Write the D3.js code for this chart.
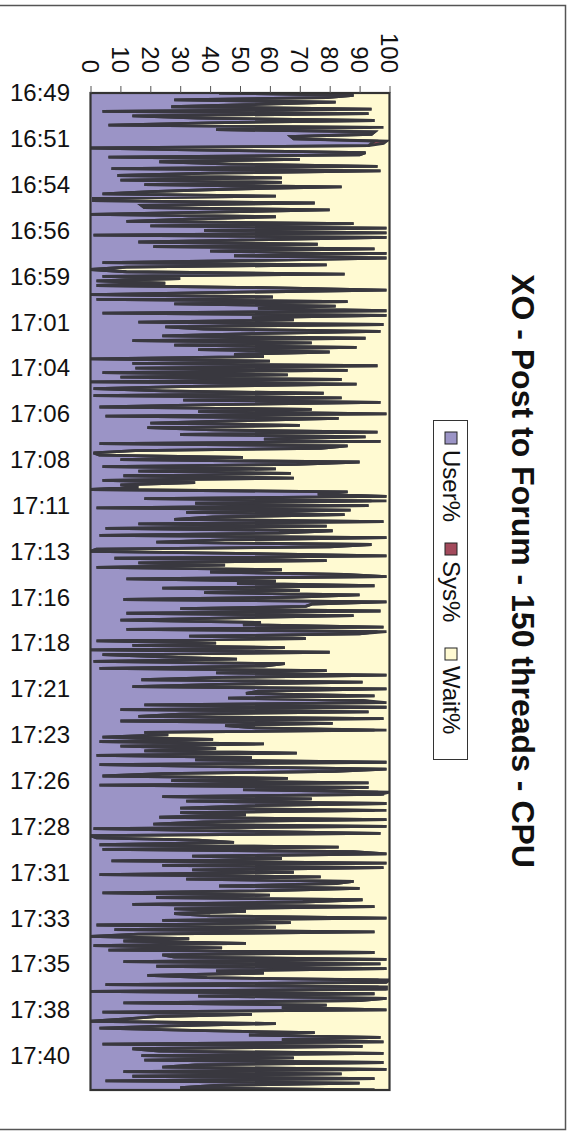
<!DOCTYPE html>
<html>
<head>
<meta charset="utf-8">
<script src="https://cdn.jsdelivr.net/npm/d3@7"></script>
<style>
  body { margin: 0; background: #fff; }
  svg { display: block; }
  text { font-family: "Liberation Sans", Arial, sans-serif; fill: #111; }
</style>
</head>
<body>
<svg id="chart" width="571" height="1135"></svg>
<script>
// Time axis labels, one every 20 samples
const timeLabels = ["16:49","16:51","16:54","16:56","16:59","17:01","17:04","17:06","17:08","17:11","17:13",
  "17:16","17:18","17:21","17:23","17:26","17:28","17:31","17:33","17:35","17:38","17:40"];
const labelEvery = 20;

const valueTicks = [0,10,20,30,40,50,60,70,80,90,100];

const seriesNames = ["User%","Sys%","Wait%"];
const seriesColors = ["#9b94c6","#a34a5c","#fffad2"];

// CPU user time per sample (%)
const userPct = [
43,88,79,28,82,56,27,94,4,93,
14,36,95,40,6,94,42,95,94,67,
68,95,94,93,0,43,92,90,6,70,
23,47,96,7,97,40,9,64,
10,64,18,84,45,20,4,62,1,1,
75,17,18,80,40,0,62,33,12,88,
20,99,38,99,1,99,60,16,76,21,
95,40,99,48,99,57,4,79,12,0,
12,85,4,30,2,25,2,63,99,45,
0,61,2,86,28,82,56,99,4,99,
54,68,16,98,25,38,97,54,24,92,
14,74,28,89,36,80,48,58,0,60,
14,96,15,86,4,66,10,84,0,89,
34,1,24,78,1,84,31,97,42,3,
74,36,99,5,83,50,20,70,19,41,
96,30,92,58,97,3,86,77,15,1,
3,51,10,90,69,4,62,16,67,11,
68,4,35,10,16,0,86,76,99,18,
94,35,93,2,87,32,85,41,28,98,
16,79,5,81,63,3,99,45,22,94,
80,2,0,55,99,8,79,16,45,2,
64,40,85,99,12,62,49,95,24,70,
38,90,67,11,99,74,72,30,97,12,
88,48,10,57,51,98,12,96,90,33,
72,2,42,14,65,0,80,4,24,49,
1,65,58,3,79,42,99,44,17,91,
43,14,99,56,52,95,46,91,96,18,
99,10,93,30,16,98,10,81,45,55,
95,
18,26,4,41,3,58,10,42,18,69,
2,54,35,99,3,48,99,82,24,4,
66,27,93,3,93,51,96,97,24,74,
32,99,53,30,95,30,52,23,99,38,
21,99,1,48,97,0,2,36,48,3,
83,4,88,99,34,64,7,99,24,98,
34,68,3,77,32,88,82,43,90,61,
4,60,22,91,71,14,95,28,52,28,
40,99,24,67,2,62,8,95,16,0,
33,11,52,1,44,6,95,24,28,99,
11,97,22,99,42,58,19,39,96,99,
5,96,99,0,95,36,99,90,11,79,
64,99,4,54,22,12,0,62,27,3,
34,75,53,97,64,98,4,91,14,23,
98,17,68,18,98,35,24,99,11,84,
14,95,5,90,42,30,95
];

// CPU I/O wait per sample (%)
const waitPct = [
57,12,21,72,18,44,73,6,96,7,
86,64,5,60,94,2,58,5,6,33,
32,1,2,7,100,57,8,10,94,30,
77,53,4,93,3,60,91,36,
90,36,82,16,55,80,96,38,99,99,
25,83,82,20,60,100,38,67,88,12,
80,1,62,1,99,1,40,84,24,79,
5,60,1,52,1,43,96,21,88,100,
88,15,96,70,98,75,98,37,1,55,
100,39,98,14,72,18,44,1,96,1,
46,32,84,2,75,62,3,46,76,8,
86,26,72,11,64,20,52,42,100,40,
86,4,85,14,96,34,90,16,100,11,
66,99,76,22,99,16,69,3,58,97,
26,64,1,95,17,50,80,30,81,59,
4,70,8,42,3,97,14,23,85,99,
97,49,90,10,31,96,38,84,33,89,
32,96,65,90,84,100,14,24,1,82,
1,65,7,98,13,68,15,59,72,2,
84,21,95,19,37,97,1,55,78,6,
20,98,100,45,1,92,21,84,55,98,
36,60,15,1,88,38,51,5,76,30,
62,10,33,89,1,26,28,70,3,88,
12,52,90,43,49,2,88,1,10,67,
28,98,58,86,35,100,20,96,76,51,
99,35,42,97,21,58,1,56,83,9,
57,86,1,44,48,5,54,9,1,82,
1,90,7,70,84,2,90,19,55,45,
1,
82,74,96,59,97,42,90,58,82,31,
98,46,65,1,97,52,1,18,76,96,
34,73,7,97,7,45,0,3,76,26,
68,1,47,70,1,70,48,77,1,62,
79,1,99,52,3,100,98,64,52,97,
17,96,12,1,66,36,93,1,76,2,
66,32,97,23,68,12,18,57,10,39,
96,40,78,9,29,86,5,72,48,72,
60,1,76,33,98,38,92,5,84,100,
67,89,48,99,56,94,5,76,72,1,
89,3,78,1,58,42,81,61,0,1,
95,1,1,100,5,64,1,10,89,21,
36,1,96,46,78,88,100,38,73,97,
66,25,47,3,36,2,96,9,86,77,
2,83,32,82,2,65,76,1,89,16,
86,5,95,10,58,70,5
];

// System time: zero except at these samples
const sysAt  = [15,21,22,178,235,266,278,304,305,313,387,390];
const sysPct = [4,4,4,5,3,3,4,4,4,4,4,3];

// ---- build stacked table ----
const n = Math.min(userPct.length, waitPct.length);
const sysFull = new Array(n).fill(0);
sysAt.forEach((k, j) => { if (k < n) sysFull[k] = sysPct[j]; });
const rows = d3.range(n).map(i => ({ i, User: userPct[i], Sys: sysFull[i], Wait: waitPct[i] }));
const layers = d3.stack().keys(["User","Sys","Wait"])(rows);

// ---- layout (value axis runs left→right along the top, time runs downward) ----
const plot = { left: 90.5, right: 389.5, top: 93, bottom: 1090 };
const x = d3.scaleLinear().domain([0, 100]).range([plot.left, plot.right]);
const y = d3.scaleLinear().domain([0, n - 1]).range([plot.top, plot.bottom]);

const svg = d3.select("#chart");

// outer chart frame
svg.append("rect")
  .attr("x", -2).attr("y", 5.5).attr("width", 567.5).attr("height", 1124)
  .attr("fill", "#fff").attr("stroke", "#555").attr("stroke-width", 1.5);

svg.append("clipPath").attr("id", "plotClip")
  .append("rect").attr("x", plot.left).attr("y", plot.top)
  .attr("width", plot.right - plot.left).attr("height", plot.bottom - plot.top);

const g = svg.append("g").attr("clip-path", "url(#plotClip)");

const area = d3.area()
  .y(d => y(d.data.i))
  .x0(d => x(d[0]))
  .x1(d => x(d[1]));

g.selectAll("path.area").data(layers).join("path")
  .attr("class", "area")
  .attr("d", area)
  .attr("fill", (d, k) => seriesColors[k]);

// series outlines
const edge = d3.line()
  .y(d => y(d.data.i))
  .x(d => x(d[1]));

g.selectAll("path.edge").data(layers.slice(0, 2)).join("path")
  .attr("class", "edge")
  .attr("d", edge)
  .attr("fill", "none")
  .attr("stroke", "#39383f")
  .attr("stroke-width", 2.8);

// plot frame
svg.append("rect")
  .attr("x", plot.left).attr("y", plot.top)
  .attr("width", plot.right - plot.left).attr("height", plot.bottom - plot.top)
  .attr("fill", "none").attr("stroke", "#333").attr("stroke-width", 2.2);

// value axis (top)
const vAxis = svg.append("g").attr("transform", `translate(0,${plot.top})`)
  .call(d3.axisTop(x).tickValues(valueTicks).tickSize(7).tickFormat(""));
vAxis.select(".domain").remove();
vAxis.selectAll(".tick line").attr("stroke", "#555");

svg.append("g").selectAll("text").data(valueTicks).join("text")
  .attr("transform", d => `translate(${x(d)},73) rotate(90)`)
  .attr("text-anchor", "end")
  .attr("dy", "0.35em")
  .attr("font-size", 24)
  .text(d => d);

// time axis labels (left)
svg.append("g").selectAll("text").data(timeLabels).join("text")
  .attr("x", 70)
  .attr("y", (d, m) => y(m * labelEvery))
  .attr("dy", "0.35em")
  .attr("text-anchor", "end")
  .attr("font-size", 24)
  .text(d => d);

// title
svg.append("text")
  .attr("transform", "translate(523,571) rotate(90)")
  .attr("text-anchor", "middle")
  .attr("dy", "0.35em")
  .attr("font-size", 32)
  .attr("font-weight", "bold")
  .text("XO - Post to Forum - 150 threads - CPU");

// legend
const leg = svg.append("g");
leg.append("rect")
  .attr("x", 433.5).attr("y", 420.5).attr("width", 34).attr("height", 339)
  .attr("fill", "#fff").attr("stroke", "#333").attr("stroke-width", 1);
const legY = [432, 543, 648];
seriesNames.forEach((name, k) => {
  leg.append("rect")
    .attr("x", 445).attr("y", legY[k]).attr("width", 12).attr("height", 12)
    .attr("fill", seriesColors[k]).attr("stroke", "#222").attr("stroke-width", 1);
  leg.append("text")
    .attr("transform", `translate(451,${legY[k] + 18}) rotate(90)`)
    .attr("dy", "0.35em")
    .attr("font-size", 24)
    .text(name);
});
</script>
</body>
</html>
